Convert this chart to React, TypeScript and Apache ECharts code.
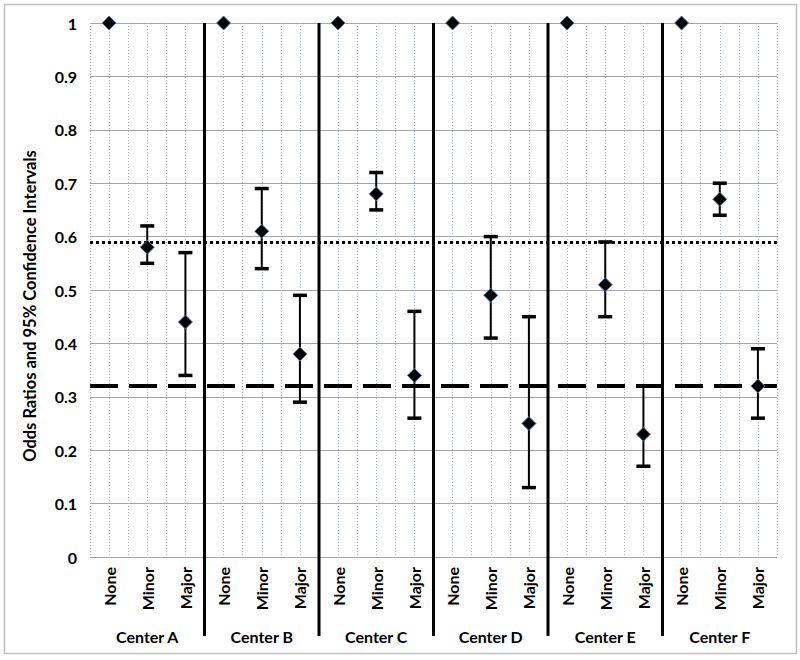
import React, { useEffect, useRef } from "react";
import * as echarts from "echarts";

const centers = ["Center A", "Center B", "Center C", "Center D", "Center E", "Center F"];
const levels = ["None", "Minor", "Major"];
const categories = centers.flatMap(() => levels);
const oddsRatios = [1, 0.58, 0.44, 1, 0.61, 0.38, 1, 0.68, 0.34, 1, 0.49, 0.25, 1, 0.51, 0.23, 1, 0.67, 0.32];
const ciLower = [null, 0.55, 0.34, null, 0.54, 0.29, null, 0.65, 0.26, null, 0.41, 0.13, null, 0.45, 0.17, null, 0.64, 0.26];
const ciUpper = [null, 0.62, 0.57, null, 0.69, 0.49, null, 0.72, 0.46, null, 0.6, 0.45, null, 0.59, 0.32, null, 0.7, 0.39];
const dottedRef = 0.593;
const dashedRef = 0.32;
const yTicks = { min: 0, max: 1, interval: 0.1 };

const FONT = "Lato";

export default function App() {
  const ref = useRef<HTMLDivElement>(null);
  useEffect(() => {
    const chart = echarts.init(ref.current!, null, { renderer: "svg" });
    const nCat = categories.length;
    const errData = categories
      .map((_, i) => (ciLower[i] != null ? [i, ciLower[i], ciUpper[i]] : null))
      .filter((d) => d) as number[][];
    const sepData = centers.slice(1).map((_, k) => [(k + 1) * levels.length * 2, 1]);

    chart.setOption({
      animation: false,
      backgroundColor: "#fff",
      graphic: [
        {
          type: "rect",
          shape: { x: 4.5, y: 4.5, width: 792, height: 649 },
          style: { fill: "none", stroke: "#c0c0c0", lineWidth: 1.5 },
          silent: true,
        },
      ],
      grid: { left: 90, right: 23, top: 23, bottom: 103 },
      xAxis: [
        {
          type: "category",
          data: categories,
          boundaryGap: true,
          axisLine: { show: false },
          axisTick: { show: false },
          splitLine: { show: false },
          axisLabel: {
            rotate: 90,
            margin: 10,
            interval: 0,
            fontFamily: FONT,
            fontWeight: "bold",
            fontSize: 16,
            color: "#000",
          },
        },
        {
          type: "value",
          min: 0,
          max: nCat * 2,
          interval: 1,
          axisLine: { show: false },
          axisTick: { show: false },
          axisLabel: { show: false },
          splitLine: {
            show: true,
            lineStyle: { color: ["#b4b4b4", "#a9bcd4"], type: [1, 2], width: 1 },
          },
        },
        {
          type: "category",
          data: centers,
          position: "bottom",
          offset: 64,
          axisLine: { show: false },
          axisTick: { show: false },
          splitLine: { show: false },
          axisLabel: {
            interval: 0,
            margin: 7,
            fontFamily: FONT,
            fontWeight: "bold",
            fontSize: 16,
            color: "#000",
          },
        },
      ],
      yAxis: {
        type: "value",
        min: yTicks.min,
        max: yTicks.max,
        interval: yTicks.interval,
        name: "Odds Ratios and 95% Confidence Intervals",
        nameLocation: "middle",
        nameRotate: 90,
        nameGap: 52,
        nameTextStyle: {
          fontFamily: FONT,
          fontWeight: "bold",
          fontSize: 16.5,
          color: "#000",
          padding: [0, 32, 0, 0],
        },
        axisLine: { show: false },
        axisTick: { show: false },
        axisLabel: { margin: 13, fontFamily: FONT, fontWeight: "bold", fontSize: 16, color: "#000" },
        splitLine: { show: true, lineStyle: { color: "#a6a6a6", width: 1 } },
      },
      series: [
        {
          type: "custom",
          name: "separators",
          xAxisIndex: 1,
          clip: false,
          silent: true,
          z: 3,
          data: sepData,
          renderItem: (params: any, api: any) => {
            const top = api.coord([api.value(0), 1]);
            const bot = api.coord([api.value(0), 0]);
            return {
              type: "line",
              shape: { x1: top[0], y1: top[1], x2: bot[0], y2: bot[1] + 79 },
              style: { stroke: "#000", lineWidth: 3 },
            };
          },
        },
        {
          type: "custom",
          name: "ci",
          xAxisIndex: 0,
          z: 4,
          silent: true,
          data: errData,
          renderItem: (params: any, api: any) => {
            const lo = api.coord([api.value(0), api.value(1)]);
            const hi = api.coord([api.value(0), api.value(2)]);
            const hw = 7;
            return {
              type: "group",
              children: [
                {
                  type: "line",
                  shape: { x1: lo[0], y1: lo[1], x2: hi[0], y2: hi[1] },
                  style: { stroke: "#000", lineWidth: 2 },
                },
                {
                  type: "line",
                  shape: { x1: lo[0] - hw, y1: lo[1], x2: lo[0] + hw, y2: lo[1] },
                  style: { stroke: "#000", lineWidth: 3.5 },
                },
                {
                  type: "line",
                  shape: { x1: hi[0] - hw, y1: hi[1], x2: hi[0] + hw, y2: hi[1] },
                  style: { stroke: "#000", lineWidth: 3.5 },
                },
              ],
            };
          },
        },
        {
          type: "scatter",
          name: "Odds ratio",
          xAxisIndex: 0,
          z: 6,
          symbol: "diamond",
          symbolSize: [14, 14],
          data: oddsRatios,
          itemStyle: { color: "#000", borderColor: "#4f74a8", borderWidth: 1, opacity: 1 },
          markLine: {
            silent: true,
            symbol: "none",
            label: { show: false },
            data: [
              { yAxis: dottedRef, lineStyle: { color: "#000", width: 3, type: [3, 3], opacity: 1 } },
              { yAxis: dashedRef, lineStyle: { color: "#000", width: 4, type: [28, 11], opacity: 1 } },
            ],
          },
        },
      ],
    });
    return () => chart.dispose();
  }, []);
  return (
    <div
      ref={ref}
      style={{ position: "absolute", left: 0, top: 0, width: 800, height: 660 }}
    />
  );
}
